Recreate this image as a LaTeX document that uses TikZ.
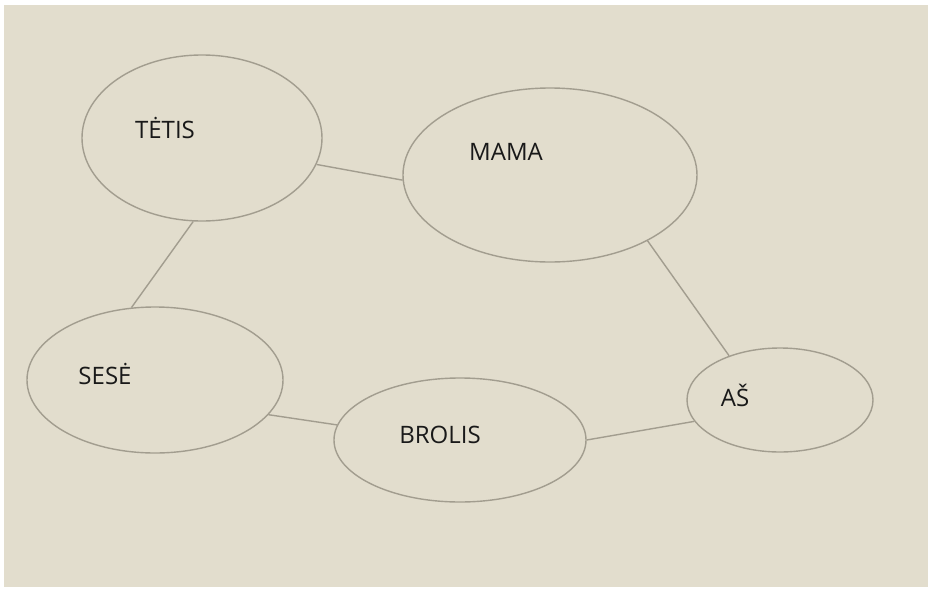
\documentclass[tikz,border=0pt]{standalone}
\usepackage{fontspec}
\setmainfont{Open Sans}
\usetikzlibrary{shapes.geometric}
\definecolor{paper}{HTML}{E2DDCD}
\definecolor{pencil}{HTML}{A29D8F}
\tikzset{
	member/.style={ellipse, draw=pencil, line width=0.7pt, inner sep=0pt},
	nametag/.style={font=\fontsize{12}{14}\selectfont, text=black!90},
	tie/.style={draw=pencil, line width=0.7pt}
}
\begin{document}
\begin{tikzpicture}[x=0.5pt, y=-0.5pt]
	\fill[white] (0,0) rectangle (928,590);
	\fill[paper] (4,5) rectangle (928,587);
	\useasboundingbox (0,0) rectangle (928,590);
	% circles
	\node[member, minimum width=120pt, minimum height=83pt] (tetis) at (202,138) {};
	\node[member, minimum width=147pt, minimum height=87pt] (mama) at (550,175) {};
	\node[member, minimum width=128pt, minimum height=73pt] (sese) at (155,380) {};
	\node[member, minimum width=126pt, minimum height=62pt] (brolis) at (460,440) {};
	\node[member, minimum width=93pt, minimum height=52pt] (as) at (780,400) {};
	% names
	\node[nametag] (tetislabel) at (165,128) {TĖTIS};
	\node[nametag] (mamalabel) at (506,152) {MAMA};
	\node[nametag] (seselabel) at (105,374) {SESĖ};
	\node[nametag] (brolislabel) at (440,435) {BROLIS};
	\node[nametag] (aslabel) at (735,395) {AŠ};
	% ties
	\draw[tie] (tetis.-13) -- (mama.182);
	\draw[tie] (tetis.-96) -- (sese.108);
	\draw[tie] (mama.-34) -- (as.139);
	\draw[tie] (sese.-17) -- (brolis.173);
	\draw[tie] (brolis.0) -- (as.-166);
\end{tikzpicture}
\end{document}
